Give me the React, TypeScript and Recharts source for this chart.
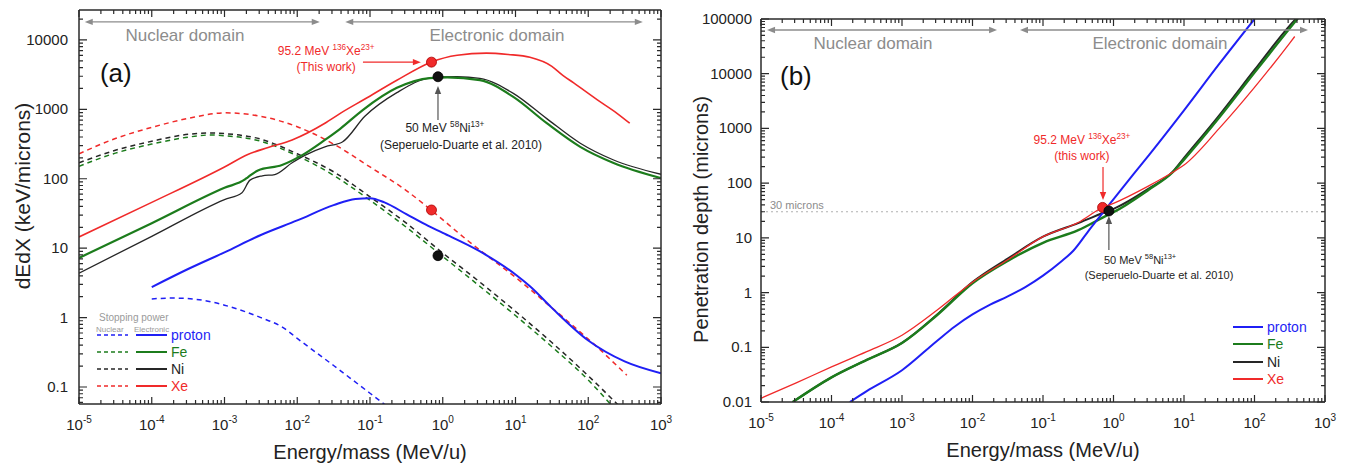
import React from 'react';
import { LineChart, Line, XAxis, YAxis, ReferenceLine, ReferenceDot } from 'recharts';

const FONT = '"Liberation Sans", Arial, Helvetica, sans-serif';
const C_RED = '#f02a2a';
const C_GREEN = '#1c7c1c';
const C_BLUE = '#1f1ff5';
const C_BLACK = '#262626';
const C_GRAY = '#8c8c8c';
const C_AXIS = '#2a2a2a';

// ---------- axes / tick labels ----------
const xDomain: [number, number] = [1e-5, 1e3];
const xTicks = [1e-5, 1e-4, 1e-3, 1e-2, 1e-1, 1, 10, 100, 1000];
const xTickExps = ['-5', '-4', '-3', '-2', '-1', '0', '1', '2', '3'];
const yDomainA: [number, number] = [0.0569, 27000];
const yTicksA = [0.1, 1, 10, 100, 1000, 10000];
const yTickLabelsA = ['0.1', '1', '10', '100', '1000', '10000'];
const yDomainB: [number, number] = [0.01, 100000];
const yTicksB = [0.01, 0.1, 1, 10, 100, 1000, 10000, 100000];
const yTickLabelsB = ['0.01', '0.1', '1', '10', '100', '1000', '10000', '100000'];

// ---------- panel (a): electronic stopping power (solid) ----------
const protonElecE = [1e-4, 3.16e-4, 1e-3, 3.16e-3, 0.01, 0.0316, 0.0631, 0.1, 0.158, 0.316, 0.631, 1, 3.16, 10, 15.8, 31.6, 100, 316, 1000];
const protonElecS = [2.75, 5.01, 8.71, 15.5, 25.1, 41.7, 51.3, 52.5, 45.7, 30.9, 20.9, 16.6, 9.12, 4.17, 2.82, 1.38, 0.468, 0.234, 0.158];
const feElecE = [1e-5, 1e-4, 1e-3, 1.91e-3, 2.09e-3, 2.88e-3, 6.17e-3, 0.0117, 0.024, 0.0389, 0.0794, 0.234, 0.661, 1.15, 3.24, 9.33, 26.9, 77.6, 219, 1000];
const feElecS = [7.24, 22.9, 74.1, 97.7, 105, 132, 158, 219, 363, 525, 977, 2040, 2820, 2880, 2630, 1510, 631, 288, 170, 102];
const niElecE = [1e-5, 1e-4, 1e-3, 1.74e-3, 2.24e-3, 3.31e-3, 4.9e-3, 8.5e-3, 0.0129, 0.024, 0.0417, 0.085, 0.234, 0.661, 1.58, 3.24, 9.33, 26.9, 77.6, 219, 1000];
const niElecS = [4.37, 14.8, 50.1, 63.1, 95.5, 110, 115, 170, 219, 288, 339, 794, 1740, 2820, 2950, 2800, 1700, 735, 325, 188, 116];
const xeElecE = [1e-5, 1e-4, 1e-3, 2.09e-3, 3.98e-3, 8.5e-3, 0.024, 0.040, 0.085, 0.234, 0.69, 1.58, 3.98, 7.94, 15.8, 31.6, 44.7, 63.1, 132, 251, 372];
const xeElecS = [14.5, 45.7, 148, 224, 282, 363, 631, 891, 1410, 2630, 4790, 6030, 6460, 6170, 5620, 4170, 3090, 2400, 1380, 871, 631];

// ---------- panel (a): nuclear stopping power (dashed) ----------
const protonNucE = [1e-4, 2e-4, 5e-4, 1e-3, 3.16e-3, 6.31e-3, 0.01, 0.0316, 0.1, 0.251];
const protonNucS = [1.86, 1.91, 1.78, 1.51, 1.0, 0.724, 0.501, 0.204, 0.0813, 0.0389];
const feNucE = [1e-5, 3.16e-5, 1e-4, 3.16e-4, 6.31e-4, 1e-3, 3.16e-3, 0.01, 0.0316, 0.1, 0.316, 1, 3.16, 10, 31.6, 100, 224];
const feNucS = [151, 234, 316, 398, 427, 417, 347, 214, 112, 49, 20, 7.59, 2.88, 1.07, 0.38, 0.126, 0.0501];
const niNucE = [1e-5, 3.16e-5, 1e-4, 3.16e-4, 6.31e-4, 1e-3, 3.16e-3, 0.01, 0.0316, 0.1, 0.316, 1, 3.16, 10, 31.6, 100, 282];
const niNucS = [170, 257, 347, 437, 457, 447, 372, 229, 126, 55, 22.9, 8.51, 3.31, 1.23, 0.437, 0.145, 0.0501];
const xeNucE = [1e-5, 3.16e-5, 1e-4, 3.16e-4, 1e-3, 3.16e-3, 0.01, 0.0316, 0.1, 0.316, 0.69, 2.14, 3.16, 10, 15.8, 31.6, 44.7, 100, 132, 200, 339];
const xeNucS = [229, 380, 550, 741, 891, 794, 562, 316, 148, 67.6, 35.5, 13.2, 9.55, 3.8, 2.57, 1.38, 1.02, 0.49, 0.38, 0.251, 0.148];

// ---------- panel (b): penetration depth ----------
const protonRangeE = [1.82e-4, 3.16e-4, 1e-3, 3.16e-3, 5.62e-3, 0.01, 0.0178, 0.0316, 0.0562, 0.1, 0.178, 0.269, 0.468, 0.813, 1.91, 3.31, 10, 31.6, 100];
const protonRangeR = [0.01, 0.0158, 0.038, 0.132, 0.24, 0.398, 0.603, 0.851, 1.26, 2.04, 3.63, 5.8, 14.8, 36.3, 145, 347, 2140, 15100, 100000];
const feRangeE = [2.82e-5, 1e-4, 3.16e-4, 1e-3, 3.16e-3, 0.01, 0.0316, 0.1, 0.316, 0.832, 1, 3.16, 6.92, 10, 31.6, 100, 316, 417];
const feRangeR = [0.01, 0.0282, 0.0589, 0.12, 0.389, 1.48, 3.8, 8.13, 13.8, 26.3, 29.5, 75.9, 158, 269, 1580, 10500, 67600, 105000];
const niRangeE = [2.82e-5, 1e-4, 3.16e-4, 1e-3, 3.16e-3, 0.01, 0.0316, 0.1, 0.316, 0.832, 1, 3.16, 6.92, 10, 31.6, 100, 316, 398];
const niRangeR = [0.01, 0.0282, 0.0589, 0.12, 0.398, 1.55, 4.17, 10.5, 18.6, 30.9, 33.9, 79.4, 162, 288, 1740, 11700, 75900, 105000];
const xeRangeE = [1e-5, 3.16e-5, 1e-4, 3.16e-4, 1e-3, 3.16e-3, 0.01, 0.0316, 0.1, 0.316, 0.69, 1, 3.16, 6.92, 10, 31.6, 100, 316, 372];
const xeRangeR = [0.0117, 0.0224, 0.0437, 0.0832, 0.166, 0.479, 1.55, 3.98, 10.5, 19.1, 35.5, 42.7, 89.1, 158, 214, 1000, 5620, 36300, 47900];

// ---------- measured points ----------
const xePointE = 0.70;
const niPointE = 0.86;
const xeElecPoint = 4790;
const xeNucPoint = 35.5;
const niElecPoint = 2950;
const niNucPoint = 7.8;
const xeRangePoint = 36;
const niRangePoint = 31;
const depthLine = 30;

// ---------- legend ----------
const legendNames = ['proton', 'Fe', 'Ni', 'Xe'];
const legendColors = [C_BLUE, C_GREEN, C_BLACK, C_RED];

const pts = (E: number[], V: number[]) => E.map((x, i) => ({ x, y: V[i] }));

const minorTicks = (lo: number, hi: number) => {
  const out: number[] = [];
  for (let e = Math.floor(Math.log10(lo)); e <= Math.ceil(Math.log10(hi)); e++) {
    for (let m = 2; m <= 9; m++) {
      const v = m * Math.pow(10, e);
      if (v > lo * 1.0001 && v < hi * 0.9999) out.push(v);
    }
  }
  return out;
};

const XTick = (props: any) => {
  const { x, y, payload } = props;
  const i = xTicks.findIndex((t) => Math.abs(t - payload.value) / t < 1e-6);
  return (
    <text x={x} y={y + 26} textAnchor="middle" fontSize={15} fill="#222" fontFamily={FONT}>
      <tspan>10</tspan>
      <tspan dy={-7} fontSize={10}>{xTickExps[i]}</tspan>
    </text>
  );
};

const makeYTick = (ticks: number[], labels: string[], gap: number) => (props: any) => {
  const { x, y, payload } = props;
  const i = ticks.findIndex((t) => Math.abs(t - payload.value) / t < 1e-6);
  return (
    <text x={x - gap} y={y + 5} textAnchor="end" fontSize={15} fill="#222" fontFamily={FONT}>
      {labels[i]}
    </text>
  );
};

// tick marks: one reference segment spanning the plot, drawn only as short inward stubs at both ends
const stubShape = (len: number) => (p: any) => {
  const { x1, y1, x2, y2 } = p;
  const dx = x2 - x1;
  const dy = y2 - y1;
  const L = Math.sqrt(dx * dx + dy * dy) || 1;
  const ux = (dx / L) * len;
  const uy = (dy / L) * len;
  const d = `M${x1},${y1}L${x1 + ux},${y1 + uy}M${x2},${y2}L${x2 - ux},${y2 - uy}`;
  return <path d={d} stroke={C_AXIS} strokeWidth={1.2} fill="none" />;
};

// full frame via segments
const frameShape = (p: any) => (
  <line x1={p.x1} y1={p.y1} x2={p.x2} y2={p.y2} stroke={C_AXIS} strokeWidth={1.5} />
);

const arrowShape = (color: string, both: boolean, head = 7, width = 1.2) => (p: any) => {
  const { x1, y1, x2, y2 } = p;
  const a = Math.atan2(y2 - y1, x2 - x1);
  const hw = head * 0.4;
  const tri = (x: number, y: number, ang: number) => {
    const bx = x - head * Math.cos(ang);
    const by = y - head * Math.sin(ang);
    return `${x},${y} ${bx + hw * Math.sin(ang)},${by - hw * Math.cos(ang)} ${bx - hw * Math.sin(ang)},${by + hw * Math.cos(ang)}`;
  };
  const sx = both ? x1 + head * 0.8 * Math.cos(a) : x1;
  const sy = both ? y1 + head * 0.8 * Math.sin(a) : y1;
  const ex = x2 - head * 0.8 * Math.cos(a);
  const ey = y2 - head * 0.8 * Math.sin(a);
  return (
    <g>
      <line x1={sx} y1={sy} x2={ex} y2={ey} stroke={color} strokeWidth={width} />
      <polygon points={tri(x2, y2, a)} fill={color} />
      {both && <polygon points={tri(x1, y1, a + Math.PI)} fill={color} />}
    </g>
  );
};

const textShape = (content: React.ReactNode, size: number, color: string, anchor: 'start' | 'middle' | 'end' = 'middle') => (p: any) => (
  <text x={p.cx} y={p.cy} dy="0.35em" textAnchor={anchor} fontSize={size} fill={color} fontFamily={FONT}>
    {content}
  </text>
);

const supText = (pre: string, sup1: string, mid: string, sup2: string, size: number) => (
  <>
    <tspan>{pre}</tspan>
    <tspan dy={-size * 0.42} fontSize={size * 0.68}>{sup1}</tspan>
    <tspan dy={size * 0.42}>{mid}</tspan>
    <tspan dy={-size * 0.42} fontSize={size * 0.68}>{sup2}</tspan>
  </>
);

const xLabel = (text: string) => (props: any) => {
  const vb = props.viewBox || {};
  const cx = (vb.x ?? 0) + (vb.width ?? 0) / 2;
  const cy = (vb.y ?? 0) + 55;
  return (
    <text x={cx} y={cy} textAnchor="middle" fontSize={20} fill="#222" fontFamily={FONT}>{text}</text>
  );
};
const yLabel = (text: string, fromLeft: number, shift: number, size: number) => (props: any) => {
  const vb = props.viewBox || {};
  const cx = (vb.x ?? 0) + fromLeft;
  const cy = (vb.y ?? 0) + (vb.height ?? 0) / 2 + shift;
  return (
    <text x={cx} y={cy} transform={`rotate(-90 ${cx} ${cy})`} textAnchor="middle" dominantBaseline="central" fontSize={size} fill="#222" fontFamily={FONT}>{text}</text>
  );
};

const axisFurniture = (yDomain: [number, number], majorY: number[]) => {
  const out: React.ReactNode[] = [];
  const xT = (v: number, len: number, key: string) => (
    <ReferenceLine key={key} segment={[{ x: v, y: yDomain[0] }, { x: v, y: yDomain[1] }]} ifOverflow="visible" shape={stubShape(len)} />
  );
  const yT = (v: number, len: number, key: string) => (
    <ReferenceLine key={key} segment={[{ x: xDomain[0], y: v }, { x: xDomain[1], y: v }]} ifOverflow="visible" shape={stubShape(len)} />
  );
  xTicks.forEach((v, i) => out.push(xT(v, 7, `xM${i}`)));
  minorTicks(xDomain[0], xDomain[1]).forEach((v, i) => out.push(xT(v, 4, `xm${i}`)));
  majorY.forEach((v, i) => out.push(yT(v, 8, `yM${i}`)));
  minorTicks(yDomain[0], yDomain[1]).forEach((v, i) => out.push(yT(v, 4, `ym${i}`)));
  const corners = [
    { x: xDomain[0], y: yDomain[0] },
    { x: xDomain[1], y: yDomain[0] },
    { x: xDomain[1], y: yDomain[1] },
    { x: xDomain[0], y: yDomain[1] },
  ];
  corners.forEach((c, i) => {
    out.push(<ReferenceLine key={`fr${i}`} segment={[c, corners[(i + 1) % 4]]} ifOverflow="visible" shape={frameShape} />);
  });
  return out;
};

const line = (key: string, data: { x: number; y: number }[], color: string, width: number, dashed = false) => (
  <Line
    key={key}
    name={key}
    data={data}
    dataKey="y"
    type="monotone"
    stroke={color}
    strokeWidth={width}
    strokeDasharray={dashed ? '5 4' : undefined}
    dot={false}
    activeDot={false}
    isAnimationActive={false}
  />
);

const ChartA = () => (
  <LineChart width={680} height={469} margin={{ top: 10, right: 19, bottom: 0, left: 0 }}>
    <XAxis
      type="number"
      dataKey="x"
      scale="log"
      domain={xDomain}
      ticks={xTicks}
      allowDataOverflow
      interval={0}
      height={65}
      tickLine={false}
      axisLine={false}
      tickSize={0}
      tickMargin={0}
      tick={<XTick />}
      label={{ content: xLabel('Energy/mass (MeV/u)') }}
    />
    <YAxis
      type="number"
      scale="log"
      domain={yDomainA}
      ticks={yTicksA}
      allowDataOverflow
      interval={0}
      width={79}
      tickLine={false}
      axisLine={false}
      tickSize={0}
      tickMargin={0}
      tick={makeYTick(yTicksA, yTickLabelsA, 11)}
      label={{ content: yLabel('dEdX (keV/microns)', 22, -11, 21) }}
    />
    {line('proton nuclear', pts(protonNucE, protonNucS), C_BLUE, 1.5, true)}
    {line('Fe nuclear', pts(feNucE, feNucS), C_GREEN, 1.5, true)}
    {line('Ni nuclear', pts(niNucE, niNucS), C_BLACK, 1.5, true)}
    {line('Xe nuclear', pts(xeNucE, xeNucS), C_RED, 1.5, true)}
    {line('Ni electronic', pts(niElecE, niElecS), C_BLACK, 1.3)}
    {line('Fe electronic', pts(feElecE, feElecS), C_GREEN, 2.2)}
    {line('Xe electronic', pts(xeElecE, xeElecS), C_RED, 1.6)}
    {line('proton electronic', pts(protonElecE, protonElecS), C_BLUE, 2)}

    {axisFurniture(yDomainA, yTicksA)}

    <ReferenceLine segment={[{ x: 1.2e-5, y: 18200 }, { x: 0.0204, y: 18200 }]} ifOverflow="visible" shape={arrowShape(C_GRAY, true, 8, 1.3)} />
    <ReferenceLine segment={[{ x: 0.0457, y: 18200 }, { x: 562, y: 18200 }]} ifOverflow="visible" shape={arrowShape(C_GRAY, true, 8, 1.3)} />
    <ReferenceDot x={2.86e-4} y={11800} ifOverflow="visible" shape={textShape('Nuclear domain', 17, C_GRAY)} />
    <ReferenceDot x={5.57} y={11800} ifOverflow="visible" shape={textShape('Electronic domain', 17, C_GRAY)} />
    <ReferenceDot x={1.94e-5} y={3340} ifOverflow="visible" shape={textShape('(a)', 26, '#111', 'start')} />

    <ReferenceDot x={0.025} y={6930} ifOverflow="visible" shape={textShape(supText('95.2 MeV ', '136', 'Xe', '23+', 12), 12, C_RED)} />
    <ReferenceDot x={0.025} y={4080} ifOverflow="visible" shape={textShape('(This work)', 12, C_RED)} />
    <ReferenceLine segment={[{ x: 0.08, y: xeElecPoint }, { x: 0.5, y: xeElecPoint }]} ifOverflow="visible" shape={arrowShape(C_RED, false, 8, 1.2)} />

    <ReferenceLine segment={[{ x: niPointE, y: 700 }, { x: niPointE, y: 2170 }]} ifOverflow="visible" shape={arrowShape('#555', false, 8, 1.2)} />
    <ReferenceDot x={1.07} y={540} ifOverflow="visible" shape={textShape(supText('50 MeV ', '58', 'Ni', '13+', 12), 12, '#222')} />
    <ReferenceDot x={1.78} y={307} ifOverflow="visible" shape={textShape('(Seperuelo-Duarte et al. 2010)', 12, '#222')} />

    <ReferenceDot x={xePointE} y={xeElecPoint} r={5} fill={C_RED} stroke="#a00" strokeWidth={0.8} ifOverflow="visible" />
    <ReferenceDot x={xePointE} y={xeNucPoint} r={5} fill={C_RED} stroke="#a00" strokeWidth={0.8} ifOverflow="visible" />
    <ReferenceDot x={niPointE} y={niElecPoint} r={5} fill="#111" stroke="#000" strokeWidth={0.8} ifOverflow="visible" />
    <ReferenceDot x={niPointE} y={niNucPoint} r={5} fill="#111" stroke="#000" strokeWidth={0.8} ifOverflow="visible" />
  </LineChart>
);

const ChartB = () => (
  <LineChart width={667} height={469} margin={{ top: 19, right: 22, bottom: 0, left: 0 }}>
    <XAxis
      type="number"
      dataKey="x"
      scale="log"
      domain={xDomain}
      ticks={xTicks}
      allowDataOverflow
      interval={0}
      height={67}
      tickLine={false}
      axisLine={false}
      tickSize={0}
      tickMargin={0}
      tick={<XTick />}
      label={{ content: xLabel('Energy/mass (MeV/u)') }}
    />
    <YAxis
      type="number"
      scale="log"
      domain={yDomainB}
      ticks={yTicksB}
      allowDataOverflow
      interval={0}
      width={81}
      tickLine={false}
      axisLine={false}
      tickSize={0}
      tickMargin={0}
      tick={makeYTick(yTicksB, yTickLabelsB, 9)}
      label={{ content: yLabel('Penetration depth (microns)', 21, 9, 20) }}
    />
    <ReferenceLine y={depthLine} stroke="#b0b0b0" strokeWidth={1} strokeDasharray="2 3" />
    <ReferenceDot x={1.34e-5} y={39.8} ifOverflow="visible" shape={textShape('30 microns', 11, C_GRAY, 'start')} />

    {line('Ni range', pts(niRangeE, niRangeR), C_BLACK, 2)}
    {line('Fe range', pts(feRangeE, feRangeR), C_GREEN, 2.4)}
    {line('proton range', pts(protonRangeE, protonRangeR), C_BLUE, 2)}
    {line('Xe range', pts(xeRangeE, xeRangeR), C_RED, 1.3)}

    {axisFurniture(yDomainB, yTicksB)}

    <ReferenceLine segment={[{ x: 1.22e-5, y: 63000 }, { x: 0.0223, y: 63000 }]} ifOverflow="visible" shape={arrowShape(C_GRAY, true, 8, 1.3)} />
    <ReferenceLine segment={[{ x: 0.0472, y: 63000 }, { x: 574, y: 63000 }]} ifOverflow="visible" shape={arrowShape(C_GRAY, true, 8, 1.3)} />
    <ReferenceDot x={3.88e-4} y={36400} ifOverflow="visible" shape={textShape('Nuclear domain', 17, C_GRAY)} />
    <ReferenceDot x={4.57} y={36400} ifOverflow="visible" shape={textShape('Electronic domain', 17, C_GRAY)} />
    <ReferenceDot x={1.86e-5} y={9080} ifOverflow="visible" shape={textShape('(b)', 26, '#111', 'start')} />

    <ReferenceDot x={0.357} y={614} ifOverflow="visible" shape={textShape(supText('95.2 MeV ', '136', 'Xe', '23+', 12), 12, C_RED)} />
    <ReferenceDot x={0.357} y={313} ifOverflow="visible" shape={textShape('(this work)', 12, C_RED)} />
    <ReferenceLine segment={[{ x: 0.71, y: 197 }, { x: 0.71, y: 49.1 }]} ifOverflow="visible" shape={arrowShape(C_RED, false, 8, 1.2)} />

    <ReferenceLine segment={[{ x: niPointE, y: 5.98 }, { x: niPointE, y: 25.1 }]} ifOverflow="visible" shape={arrowShape('#555', false, 8, 1.2)} />
    <ReferenceDot x={2.38} y={3.93} ifOverflow="visible" shape={textShape(supText('50 MeV ', '58', 'Ni', '13+', 11), 11, '#222')} />
    <ReferenceDot x={4.42} y={2.09} ifOverflow="visible" shape={textShape('(Seperuelo-Duarte et al. 2010)', 11, '#222')} />

    <ReferenceDot x={xePointE} y={xeRangePoint} r={5} fill={C_RED} stroke="#a00" strokeWidth={0.8} ifOverflow="visible" />
    <ReferenceDot x={niPointE} y={niRangePoint} r={5} fill="#111" stroke="#000" strokeWidth={0.8} ifOverflow="visible" />
  </LineChart>
);

const LegendOverlay = () => {
  const rowsA = [335, 352, 369, 386];
  const rowsB = [327, 344, 362, 379];
  return (
    <svg width={1347} height={469} style={{ position: 'absolute', left: 0, top: 0, pointerEvents: 'none' }} fontFamily={FONT}>
      <text x={99} y={317} dy="0.35em" fontSize={10} fill="#9a9a9a">Stopping power</text>
      <text x={96} y={329} dy="0.35em" fontSize={8} fill="#9a9a9a">Nuclear</text>
      <text x={134} y={329} dy="0.35em" fontSize={8} fill="#9a9a9a">Electronic</text>
      {legendNames.map((n, i) => (
        <g key={`la${n}`}>
          <line x1={97} x2={128} y1={rowsA[i]} y2={rowsA[i]} stroke={legendColors[i]} strokeWidth={1.5} strokeDasharray="4 3" />
          <line x1={136} x2={167} y1={rowsA[i]} y2={rowsA[i]} stroke={legendColors[i]} strokeWidth={2} />
          <text x={171} y={rowsA[i]} dy="0.35em" fontSize={14} fill={legendColors[i]}>{n}</text>
        </g>
      ))}
      {legendNames.map((n, i) => (
        <g key={`lb${n}`}>
          <line x1={1233} x2={1263} y1={rowsB[i]} y2={rowsB[i]} stroke={legendColors[i]} strokeWidth={2} />
          <text x={1267} y={rowsB[i]} dy="0.35em" fontSize={14} fill={legendColors[i]}>{n}</text>
        </g>
      ))}
    </svg>
  );
};

export default function App() {
  return (
    <div style={{ position: 'absolute', left: 0, top: 0, width: 1347, height: 469, background: '#fff', fontFamily: FONT }}>
      <div style={{ position: 'absolute', left: 0, top: 0 }}>
        <ChartA />
      </div>
      <div style={{ position: 'absolute', left: 680, top: 0 }}>
        <ChartB />
      </div>
      <LegendOverlay />
    </div>
  );
}
